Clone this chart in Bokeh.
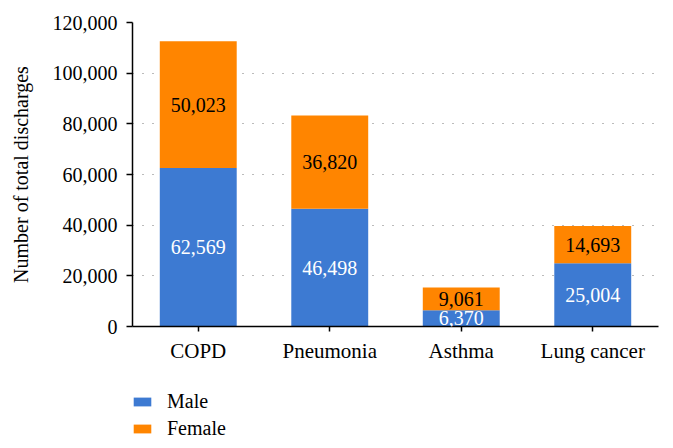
from bokeh.plotting import figure
from bokeh.layouts import column
from bokeh.models import (ColumnDataSource, FactorRange, Range1d, Legend, LegendItem,
                          NumeralTickFormatter, FixedTicker, LabelSet)
from bokeh.embed import file_html
from bokeh.resources import INLINE

categories = ["COPD", "Pneumonia", "Asthma", "Lung cancer"]
male = [62569, 46498, 6370, 25004]
female = [50023, 36820, 9061, 14693]
y_ticks = [0, 20000, 40000, 60000, 80000, 100000, 120000]
series = ["Male", "Female"]

BLUE = "#3D7AD2"
ORANGE = "#FF8500"
FONT = "Liberation Serif"

male_lbl = [f"{v:,}" for v in male]
female_lbl = [f"{v:,}" for v in female]
male_mid = [m / 2 for m in male]
female_mid = [m + f / 2 for m, f in zip(male, female)]

src = ColumnDataSource(dict(cat=categories, Male=male, Female=female,
                            male_lbl=male_lbl, female_lbl=female_lbl,
                            male_mid=male_mid, female_mid=female_mid))

p = figure(x_range=FactorRange(*categories), y_range=Range1d(0, 120000),
           width=665, height=372, output_backend="svg", toolbar_location=None,
           min_border_left=132, min_border_right=7, min_border_top=22,
           min_border_bottom=46)
p.outline_line_color = None
p.background_fill_color = "white"

rs = p.vbar_stack(series, x="cat", width=0.585, source=src,
                  color=[BLUE, ORANGE], line_color=None)

p.add_layout(LabelSet(x="cat", y="male_mid", text="male_lbl", source=src,
                      text_align="center", text_baseline="middle",
                      text_color="white", text_font=FONT, text_font_size="20px"))
p.add_layout(LabelSet(x="cat", y="female_mid", text="female_lbl", source=src,
                      text_align="center", text_baseline="middle",
                      text_color="black", text_font=FONT, text_font_size="20px"))

# axes
p.yaxis.ticker = FixedTicker(ticks=y_ticks)
p.yaxis.formatter = NumeralTickFormatter(format="0,0")
p.yaxis.axis_label = "Number of total discharges"
p.yaxis.axis_label_text_font = FONT
p.yaxis.axis_label_text_font_size = "20px"
p.yaxis.axis_label_text_font_style = "normal"
p.yaxis.axis_label_text_color = "black"
p.yaxis.axis_label_standoff = 18
for ax in (p.xaxis, p.yaxis):
    ax.major_label_text_font = FONT
    ax.major_label_text_font_size = "20px"
    ax.major_label_text_color = "black"
    ax.axis_line_color = "black"
    ax.axis_line_width = 1.5
    ax.major_tick_line_color = "black"
    ax.major_tick_line_width = 1.5
    ax.major_tick_in = 0
    ax.major_tick_out = 6
    ax.minor_tick_line_color = None
p.xaxis.major_label_text_font_size = "21px"
p.yaxis.major_label_standoff = 9
p.xaxis.major_label_standoff = 7
p.xaxis.major_tick_out = 5

p.xgrid.grid_line_color = None
p.ygrid.ticker = FixedTicker(ticks=y_ticks[1:])
p.ygrid.grid_line_color = "#777777"
p.ygrid.grid_line_width = 1.2
p.ygrid.grid_line_dash = "1 9"

# legend strip below the chart (frames are aligned by the column layout)
lg = figure(width=665, height=68, output_backend="svg", toolbar_location=None,
            x_range=FactorRange(*categories), y_range=Range1d(0, 1),
            x_axis_type=None, y_axis_type=None,
            min_border_left=132, min_border_right=7, min_border_top=0,
            min_border_bottom=0)
lg.outline_line_color = None
lg.grid.visible = False
lrs = lg.vbar_stack(series, x="cat", width=0.585, source=src,
                    color=[BLUE, ORANGE], line_color=None)
for r in lrs:
    r.visible = False
legend = Legend(items=[LegendItem(label=s, renderers=[r]) for s, r in zip(series, lrs)],
                location=(-1, 0), orientation="vertical",
                glyph_width=22, glyph_height=11, label_standoff=14,
                spacing=4, padding=0, margin=0,
                border_line_color=None, background_fill_alpha=0,
                label_text_font=FONT, label_text_font_size="20px",
                label_text_color="black")
lg.add_layout(legend, "center")

layout = column(p, lg, spacing=0)
open("out.html", "w").write(file_html(layout, INLINE))
